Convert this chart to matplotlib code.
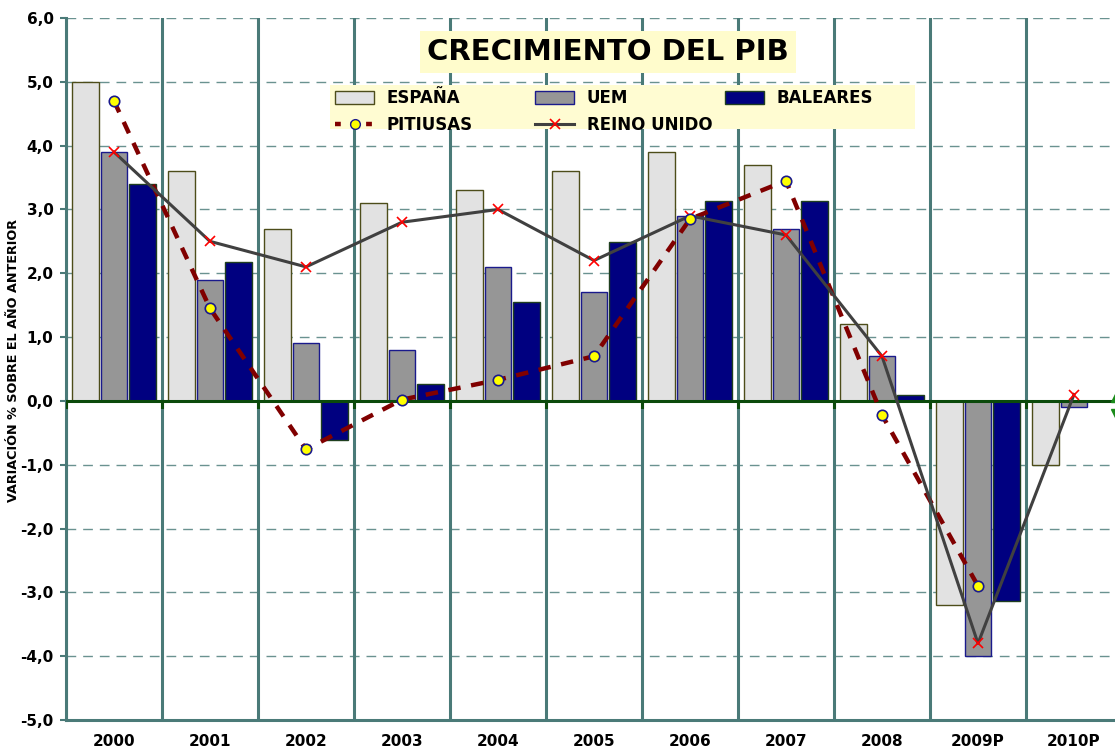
import matplotlib
matplotlib.use("Agg")
import matplotlib.pyplot as plt
import numpy as np
from matplotlib.lines import Line2D
from matplotlib.patches import Patch, Rectangle

years = ["2000", "2001", "2002", "2003", "2004", "2005", "2006", "2007", "2008", "2009P", "2010P"]
espana = [5.0, 3.6, 2.7, 3.1, 3.3, 3.6, 3.9, 3.7, 1.2, -3.2, -1.0]
uem = [3.9, 1.9, 0.9, 0.8, 2.1, 1.7, 2.9, 2.7, 0.7, -4.0, -0.1]
baleares = [3.4, 2.17, -0.62, 0.27, 1.55, 2.49, 3.13, 3.13, 0.1, -3.13, None]
pitiusas = [4.7, 1.45, -0.76, 0.02, 0.33, 0.7, 2.85, 3.45, -0.22, -2.9, None]
reino_unido = [3.9, 2.5, 2.1, 2.8, 3.0, 2.2, 2.9, 2.6, 0.7, -3.8, 0.1]
yticks = [-5, -4, -3, -2, -1, 0, 1, 2, 3, 4, 5, 6]

plt.rcParams['font.family'] = ['DejaVu Sans']
fig = plt.figure(figsize=(11.15, 7.52), dpi=100)
ax = fig.add_axes([66/1115, 1-720/752, (1122-66)/1115, 702/752])

x = np.arange(len(years))
w = 0.28
off = 0.30
teal = '#4a7a78'

for yv in yticks:
    if yv != 0:
        ax.axhline(yv, color='#6a9290', lw=1.0, ls=(0, (7, 5)), zorder=1)
for b in np.arange(-0.5, len(years), 1.0):
    ax.axvline(b, color=teal, lw=2.2, zorder=1)

def arr(v):
    return np.array([np.nan if a is None else a for a in v], dtype=float)

c_esp, e_esp = '#e2e2e2', '#4d4d1a'
c_uem, e_uem = '#969696', '#1a1a8c'
c_bal, e_bal = '#000080', '#1f3f1f'

ax.bar(x - off, espana, w, color=c_esp, edgecolor=e_esp, lw=1.0, zorder=3)
ax.bar(x, uem, w, color=c_uem, edgecolor=e_uem, lw=1.0, zorder=3)
bal = arr(baleares)
m = ~np.isnan(bal)
ax.bar(x[m] + off, bal[m], w, color=c_bal, edgecolor=e_bal, lw=1.0, zorder=3)

ax.axhline(0, color='#0b4a0b', lw=2.2, zorder=4)
for b in np.arange(-0.5, len(years), 1.0):
    ax.plot([b, b], [0, -0.1], color='#0b4a0b', lw=2.2, zorder=4)

pit = arr(pitiusas)
ax.plot(x, pit, color='#800000', lw=3.2, ls=(0, (2.8, 2.4)), zorder=5)
ax.plot(x, pit, ls='none', marker='o', ms=7.5, mfc='#ffff00', mec='#1a1a8c', mew=1.2, zorder=6)
ax.plot(x, reino_unido, color='#404040', lw=2.2, marker='x', ms=7.5, mec='#ff0000', mew=1.2, zorder=5)

# partially visible green double arrow at the right edge
ax.plot([10.45], [0.07], marker='^', color='#1a8c1a', ms=9, zorder=6, clip_on=False)
ax.plot([10.45], [-0.22], marker='v', color='#1a8c1a', ms=9, zorder=6, clip_on=False)

ax.set_xlim(-0.5, 10.5)
ax.set_ylim(-5, 6)
ax.set_yticks(yticks)
ax.set_yticklabels([f"{v:.1f}".replace('.', ',') for v in yticks], fontsize=11, fontweight='bold')
ax.set_xticks(x)
ax.set_xticklabels(years, fontsize=11, fontweight='bold')
ax.tick_params(axis='x', length=0, pad=10)
ax.tick_params(axis='y', length=4, color=teal, width=1.5, pad=5)
for s in ['top', 'right']:
    ax.spines[s].set_visible(False)
ax.spines['left'].set_color(teal)
ax.spines['left'].set_linewidth(2.2)
ax.spines['bottom'].set_color(teal)
ax.spines['bottom'].set_linewidth(2.2)

fig.text(14/1115, 1-360/752, 'VARIACIÓN % SOBRE EL AÑO ANTERIOR', rotation=90,
         fontsize=9.2, fontweight='bold', ha='center', va='center')

fig.text(608/1115, 1-52/752, 'CRECIMIENTO DEL PIB', fontsize=21, fontweight='bold',
         ha='center', va='center',
         bbox=dict(boxstyle='square,pad=0.25', facecolor='#fffccc', edgecolor='none'))

# legend background
fig.patches.append(Rectangle((330/1115, 1-129/752), 585/1115, 44/752, transform=fig.transFigure,
                             facecolor='#fffcd2', edgecolor='none', zorder=0.5))

h_esp = Patch(facecolor=c_esp, edgecolor=e_esp, label='ESPAÑA')
h_pit = Line2D([0], [0], color='#800000', lw=3.2, ls=(0, (1.3, 2.2)), marker='o', ms=7,
               mfc='#ffff00', mec='#1a1a8c', label='PITIUSAS')
h_uem = Patch(facecolor=c_uem, edgecolor=e_uem, label='UEM')
h_ru = Line2D([0], [0], color='#404040', lw=2.2, marker='x', ms=7, mec='#ff0000', mew=1.2, label='REINO UNIDO')
h_bal = Patch(facecolor=c_bal, edgecolor=e_bal, label='BALEARES')

common = dict(loc='upper left', frameon=False, prop={'weight': 'bold', 'size': 12},
              handlelength=2.35, handleheight=0.8, labelspacing=0.55, borderpad=0.0,
              borderaxespad=0.0, handletextpad=0.75)
for hs, x0 in [([h_esp, h_pit], 335), ([h_uem, h_ru], 535), ([h_bal], 725)]:
    lg = fig.legend(handles=hs, bbox_to_anchor=(x0/1115, 1-89/752), **common)
    lg.set_zorder(5)

fig.savefig('out.png', dpi=100, facecolor='white')
